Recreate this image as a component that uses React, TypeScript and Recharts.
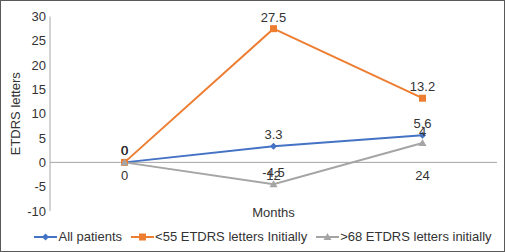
import { LineChart, Line, XAxis, YAxis, ReferenceLine, Legend, LabelList } from 'recharts'

const months = ['0', '12', '24']
const allPatients = [0, 3.3, 5.6]
const under55 = [0, 27.5, 13.2]
const over68 = [0, -4.5, 4]
const yTicks = [-10, -5, 0, 5, 10, 15, 20, 25, 30]
const seriesOrder = ['all', 'low', 'high']

const data = months.map((m, i) => ({
    month: m,
    all: allPatients[i],
    low: under55[i],
    high: over68[i],
}))

const BLUE = '#4472C4'
const ORANGE = '#ED7D31'
const GRAY = '#A5A5A5'
const TEXT = '#333333'
const FONT = 13

const Marker = ({ shape, cx, cy, color }: { shape: string; cx: number; cy: number; color: string }) => {
    if (shape === 'square') {
        return <rect x={cx - 3.5} y={cy - 3.5} width={7} height={7} fill={color} />
    }
    if (shape === 'triangle') {
        return <path d={`M${cx},${cy - 4}L${cx + 4},${cy + 3}L${cx - 4},${cy + 3}Z`} fill={color} />
    }
    return <path d={`M${cx},${cy - 3.5}L${cx + 3.5},${cy}L${cx},${cy + 3.5}L${cx - 3.5},${cy}Z`} fill={color} />
}

const shapeFor: Record<string, string> = { all: 'diamond', low: 'square', high: 'triangle' }

const makeDot = (shape: string, color: string) => (props: any) => (
    <Marker key={`${shape}-${props.index}`} shape={shape} cx={props.cx} cy={props.cy} color={color} />
)

const renderLegend = (props: any) => {
    const items = [...props.payload].sort(
        (a: any, b: any) => seriesOrder.indexOf(a.dataKey) - seriesOrder.indexOf(b.dataKey)
    )
    return (
        <div
            style={{
                display: 'flex',
                justifyContent: 'center',
                gap: 9,
                fontSize: FONT,
                color: TEXT,
                height: 16,
                lineHeight: '16px',
                paddingLeft: 29,
            }}
        >
            {items.map((entry: any) => (
                <span key={entry.dataKey} style={{ display: 'flex', alignItems: 'center', gap: 1 }}>
                    <svg width={23} height={10}>
                        <line x1={0} y1={5} x2={23} y2={5} stroke={entry.color} strokeWidth={2} />
                        <Marker shape={shapeFor[entry.dataKey]} cx={11.5} cy={5} color={entry.color} />
                    </svg>
                    {entry.value}
                </span>
            ))}
        </div>
    )
}

const XTick = (props: any) => (
    <text x={props.x} y={props.y} dy={-31} textAnchor="middle" fill={TEXT} fontSize={FONT}>
        {props.payload.value}
    </text>
)

export default function App() {
    return (
        <div
            style={{
                position: 'absolute',
                left: 0,
                top: 0,
                width: 505,
                height: 252,
                background: '#fff',
                fontFamily: '"Liberation Sans", Arial, sans-serif',
            }}
        >
            <LineChart width={505} height={252} data={data} margin={{ top: 16.5, right: 8, left: 0, bottom: 7 }}>
                <ReferenceLine y={0} stroke="#A6A6A6" strokeWidth={1} />
                <XAxis
                    dataKey="month"
                    scale="band"
                    axisLine={false}
                    tickLine={false}
                    tickSize={0}
                    tickMargin={0}
                    height={18}
                    tick={<XTick />}
                    label={{ value: 'Months', position: 'insideTop', offset: -3, fill: TEXT, fontSize: FONT }}
                />
                <YAxis
                    width={50}
                    domain={[-10, 30]}
                    ticks={yTicks}
                    interval={0}
                    axisLine={{ stroke: '#A6A6A6' }}
                    tickLine={false}
                    tickSize={0}
                    tickMargin={4}
                    tick={{ fill: TEXT, fontSize: FONT }}
                    label={{
                        value: 'ETDRS letters',
                        angle: -90,
                        position: 'insideLeft',
                        offset: 15,
                        fill: TEXT,
                        fontSize: FONT,
                        style: { textAnchor: 'middle' },
                    }}
                />
                <Legend verticalAlign="bottom" content={renderLegend} />
                <Line
                    dataKey="all"
                    name="All patients"
                    stroke={BLUE}
                    strokeWidth={2}
                    dot={makeDot('diamond', BLUE)}
                    activeDot={false}
                    isAnimationActive={false}
                >
                    <LabelList dataKey="all" position="top" offset={7} fill={TEXT} fontSize={FONT} />
                </Line>
                <Line
                    dataKey="low"
                    name="<55 ETDRS letters Initially"
                    stroke={ORANGE}
                    strokeWidth={2}
                    dot={makeDot('square', ORANGE)}
                    activeDot={false}
                    isAnimationActive={false}
                >
                    <LabelList dataKey="low" position="top" offset={7} fill={TEXT} fontSize={FONT} />
                </Line>
                <Line
                    dataKey="high"
                    name=">68 ETDRS letters initially"
                    stroke={GRAY}
                    strokeWidth={2}
                    dot={makeDot('triangle', GRAY)}
                    activeDot={false}
                    isAnimationActive={false}
                >
                    <LabelList dataKey="high" position="top" offset={7} fill={TEXT} fontSize={FONT} />
                </Line>
            </LineChart>
            <div
                style={{
                    position: 'absolute',
                    inset: 0,
                    border: '1px solid #595959',
                    pointerEvents: 'none',
                }}
            />
        </div>
    )
}
